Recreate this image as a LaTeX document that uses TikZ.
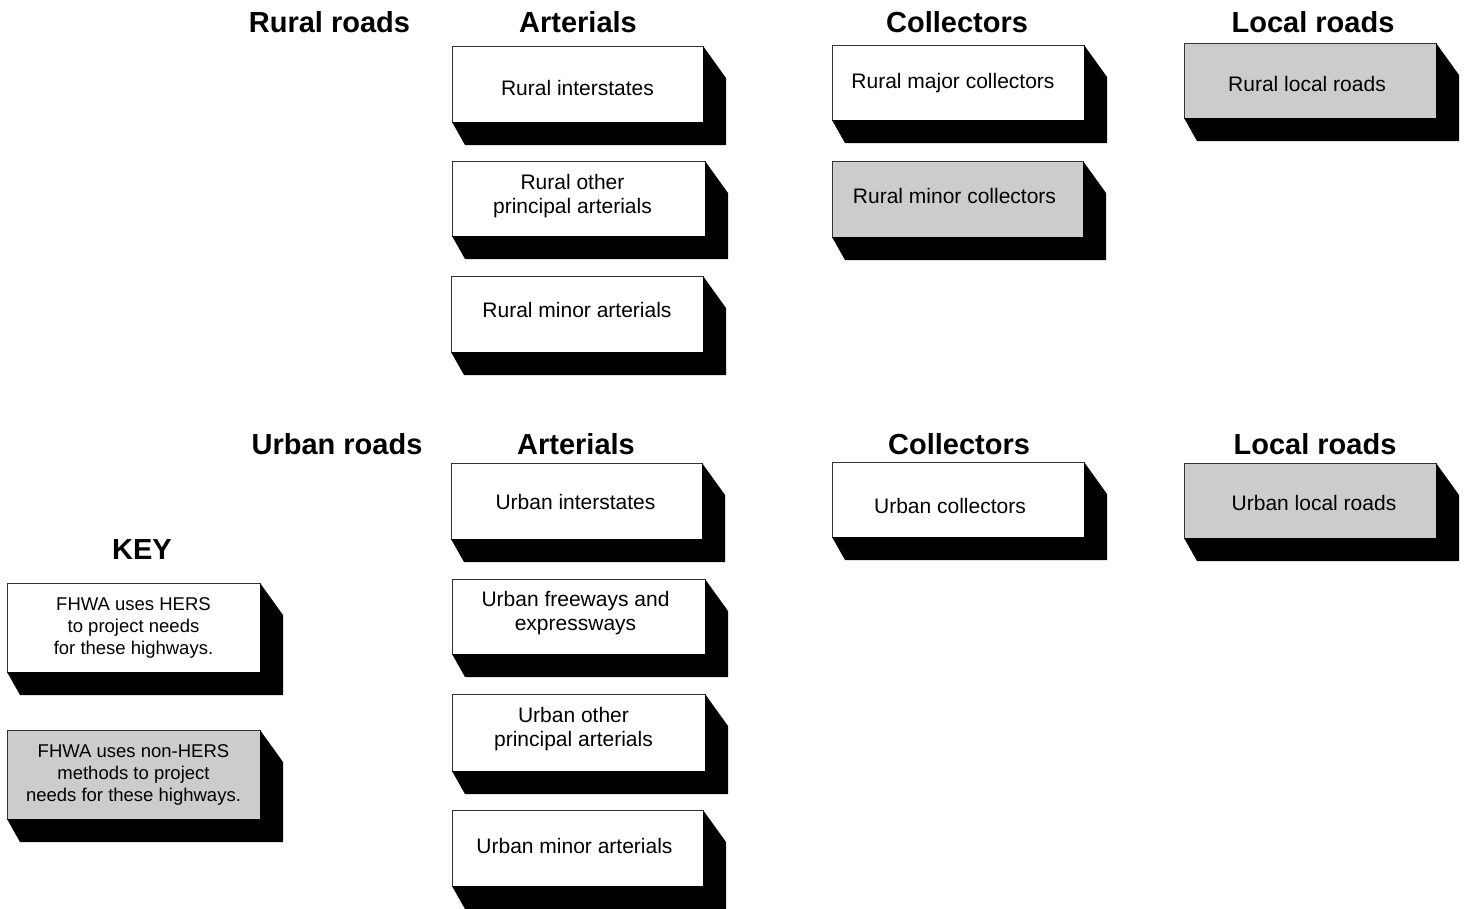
\documentclass[tikz,border=0pt]{standalone}
\usepackage{fontspec}
\setmainfont{Liberation Sans}
\usetikzlibrary{calc}
\definecolor{boxgray}{HTML}{CCCCCC}
\definecolor{edgegray}{HTML}{333333}
\tikzset{
  roadbox/.style={draw=edgegray, line width=0.9pt, anchor=north west, inner sep=0pt, outer sep=0pt},
  boxtext/.style={align=center, inner sep=0pt, anchor=center, font=\fontsize{21}{24}\selectfont},
  keytext/.style={boxtext, font=\fontsize{18.5}{22}\selectfont},
  header/.style={font=\fontsize{29}{32}\bfseries\selectfont, inner sep=0pt, anchor=center},
  shadowfill/.style={fill=black}
}
\newcommand\shadowof[1]{%
  \fill[shadowfill] (#1.north east) -- ($(#1.north east)+(23,32)$) -- ($(#1.south east)+(23,23)$)
    -- ($(#1.south west)+(13,23)$) -- (#1.south west) -- (#1.south east) -- cycle;}
\begin{document}
\begin{tikzpicture}[x=1pt,y=-1pt]
\useasboundingbox (0,0) rectangle (1466,908);

% headers
\node[header] (hrural) at (329.5,22) {Rural roads};
\node[header] (hra) at (578,22) {Arterials};
\node[header] (hrc) at (957,22) {Collectors};
\node[header] (hrl) at (1313,22) {Local roads};
\node[header] (hurban) at (337,444) {Urban roads};
\node[header] (hua) at (576,444) {Arterials};
\node[header] (huc) at (959,444) {Collectors};
\node[header] (hul) at (1315,444) {Local roads};
\node[header] (hkey) at (142,550) {KEY};

% rural boxes
\node[roadbox, fill=white, minimum width=251, minimum height=76] (r1) at (452,46) {};
\node[roadbox, fill=white, minimum width=253, minimum height=75] (r2) at (452,161) {};
\node[roadbox, fill=white, minimum width=252, minimum height=76] (r3) at (451,276) {};
\node[roadbox, fill=white, minimum width=252, minimum height=75] (c1) at (832,45) {};
\node[roadbox, fill=boxgray, minimum width=251, minimum height=76] (c2) at (832,161) {};
\node[roadbox, fill=boxgray, minimum width=252, minimum height=75] (l1) at (1184,43) {};

% urban boxes
\node[roadbox, fill=white, minimum width=251, minimum height=76] (u1) at (451,463) {};
\node[roadbox, fill=white, minimum width=253, minimum height=75] (u2) at (452,579) {};
\node[roadbox, fill=white, minimum width=253, minimum height=77] (u3) at (452,694) {};
\node[roadbox, fill=white, minimum width=251, minimum height=76] (u4) at (452,810) {};
\node[roadbox, fill=white, minimum width=252, minimum height=75] (uc) at (832,462) {};
\node[roadbox, fill=boxgray, minimum width=252, minimum height=75] (ul) at (1184,463) {};

% key boxes
\node[roadbox, fill=white, minimum width=253, minimum height=89] (k1) at (7,583) {};
\node[roadbox, fill=boxgray, minimum width=253, minimum height=89] (k2) at (7,730) {};

\foreach \b in {r1,r2,r3,c1,c2,l1,u1,u2,u3,u4,uc,ul,k1,k2} {\shadowof{\b}}

% texts
\node[boxtext] (r1t) at ($(r1.center)+(0,4)$) {Rural interstates};
\node[boxtext] (r2t) at ($(r2.center)+(-6,-2)$) {Rural other\\principal arterials};
\node[boxtext] (r3t) at ($(r3.center)+(0,-4)$) {Rural minor arterials};
\node[boxtext] (c1t) at ($(c1.center)+(-5,1)$) {Rural major collectors};
\node[boxtext] (c2t) at ($(c2.center)+(-3,-3)$) {Rural minor collectors};
\node[boxtext] (l1t) at ($(l1.center)+(-3,3)$) {Rural local roads};
\node[boxtext] (u1t) at ($(u1.center)+(-1,1)$) {Urban interstates};
\node[boxtext] (u2t) at ($(u2.center)+(-3,-3)$) {Urban freeways and\\expressways};
\node[boxtext] (u3t) at ($(u3.center)+(-5,-3)$) {Urban other\\principal arterials};
\node[boxtext] (u4t) at ($(u4.center)+(-3,-2)$) {Urban minor arterials};
\node[boxtext] (uct) at ($(uc.center)+(-8,6)$) {Urban collectors};
\node[boxtext] (ult) at ($(ul.center)+(4,2)$) {Urban local roads};
\node[keytext] (k1t) at ($(k1.center)+(0,0)$) {FHWA uses HERS\\to project needs\\for these highways.};
\node[keytext] (k2t) at ($(k2.center)+(0,0)$) {FHWA uses non-HERS\\methods to project\\needs for these highways.};
\end{tikzpicture}
\end{document}
